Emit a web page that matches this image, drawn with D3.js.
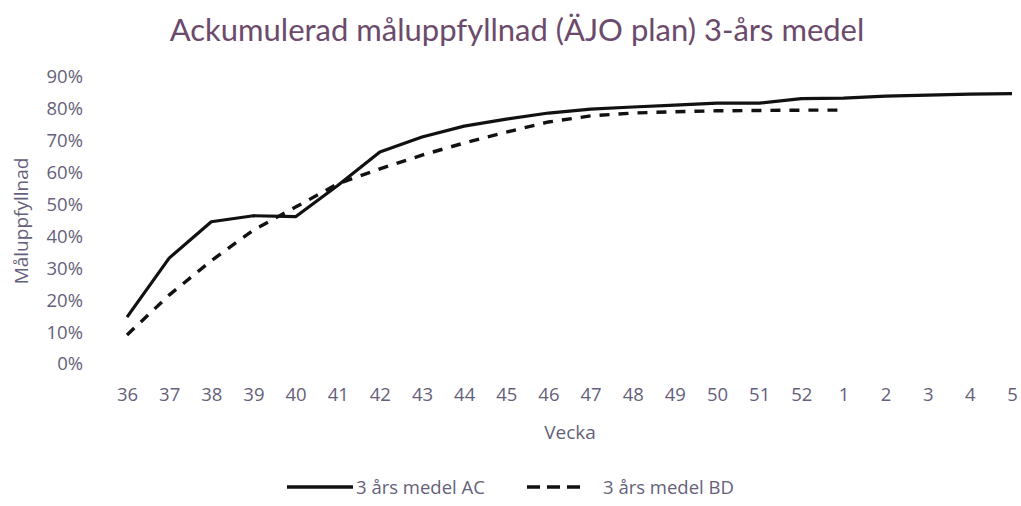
<!DOCTYPE html>
<html><head><meta charset="utf-8">
<script src="https://cdn.jsdelivr.net/npm/d3@7"></script>
<style>body{margin:0;background:#fff}svg{display:block}</style>
</head><body>
<svg id="c" width="1021" height="506"></svg>
<script>
const weeks = ["36","37","38","39","40","41","42","43","44","45","46","47","48","49","50","51","52","1","2","3","4","5"];
const acValues = [14.7,33.2,44.6,46.5,46.2,56,66.5,71.2,74.6,76.8,78.7,79.9,80.6,81.2,81.8,81.8,83.2,83.4,84,84.3,84.6,84.8];
const bdValues = [9.1,21.6,32.4,42,49.2,56.5,61.2,65.5,69.3,72.7,75.9,77.8,78.7,79.1,79.4,79.5,79.6,79.6];
const yTicks = [0,10,20,30,40,50,60,70,80,90];
const titleText = "Ackumulerad måluppfyllnad (ÄJO plan) 3-års medel";
const xTitle = "Vecka", yTitle = "Måluppfyllnad";
const seriesNames = ["3 års medel AC","3 års medel BD"];

const svg = d3.select("#c");
const tfont = "Lato, 'Open Sans', sans-serif";
const font = "'Open Sans', Lato, sans-serif";
const txtCol = "#665f7b";
const x = d3.scalePoint().domain(weeks).range([127,1012]);
const y = d3.scaleLinear().domain([0,90]).range([364,77]);

svg.append("text").attr("x",517).attr("y",41).attr("text-anchor","middle")
  .attr("font-family",tfont).attr("font-size",31).attr("fill","#6b4a6c").text(titleText);

const ya = svg.append("g").attr("transform","translate(89,0)")
  .call(d3.axisLeft(y).tickValues(yTicks).tickFormat(d=>d+"%").tickSize(0).tickPadding(6));
ya.select(".domain").remove();
ya.selectAll("text").attr("font-family",font).attr("font-size",18.5).attr("fill",txtCol);

const xa = svg.append("g").attr("transform","translate(0,385)")
  .call(d3.axisBottom(x).tickSize(0).tickPadding(3));
xa.select(".domain").remove();
xa.selectAll("text").attr("font-family",font).attr("font-size",18.5).attr("fill",txtCol);

svg.append("text").attr("x",570).attr("y",439).attr("text-anchor","middle")
  .attr("font-family",font).attr("font-size",19).attr("fill",txtCol).text(xTitle);
svg.append("text").attr("transform","translate(28,221) rotate(-90)").attr("text-anchor","middle")
  .attr("font-family",font).attr("font-size",19).attr("fill",txtCol).text(yTitle);

const line = d3.line().x((d,i)=>x(weeks[i])).y(d=>y(d));
svg.append("path").datum(acValues).attr("d",line).attr("fill","none")
  .attr("stroke","#111").attr("stroke-width",3.2).attr("stroke-linejoin","round");
svg.append("path").datum(bdValues).attr("d",line).attr("fill","none")
  .attr("stroke","#111").attr("stroke-width",3.4).attr("stroke-dasharray","10,9");

// legend
const lg = svg.append("g");
lg.append("line").attr("x1",287).attr("x2",353).attr("y1",487).attr("y2",487).attr("stroke","#111").attr("stroke-width",3.5);
lg.append("text").attr("x",356).attr("y",494).attr("font-family",font).attr("font-size",18.5).attr("fill",txtCol).text(seriesNames[0]);
lg.append("line").attr("x1",527).attr("x2",584).attr("y1",487).attr("y2",487).attr("stroke","#111").attr("stroke-width",3.5).attr("stroke-dasharray","13,7");
lg.append("text").attr("x",603).attr("y",494).attr("font-family",font).attr("font-size",18.5).attr("fill",txtCol).text(seriesNames[1]);
</script>
</body></html>
